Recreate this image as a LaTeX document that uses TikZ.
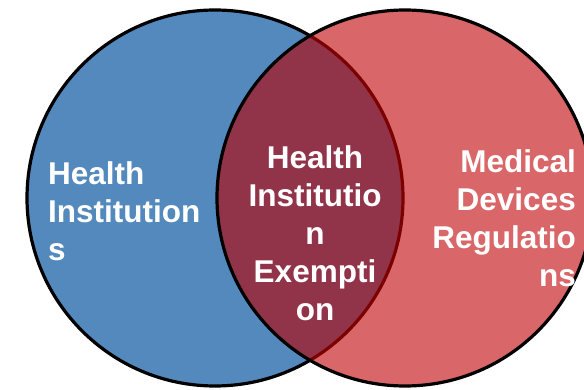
\documentclass[tikz,border=0pt]{standalone}
\usepackage{fontspec}
\setmainfont{Liberation Sans}
\usepackage{tikz}
\usetikzlibrary{positioning}
\usepackage{xcolor}

\definecolor{instblue}{RGB}{83,137,188}
\definecolor{regred}{RGB}{217,102,104}
\definecolor{overlapred}{RGB}{145,51,73}
\definecolor{edgered}{RGB}{125,0,0}

\begin{document}
\begin{tikzpicture}[
            x=1pt, y=-1pt,
            set/.style={circle, inner sep=0pt, minimum size=376pt},
            setline/.style={line width=3.2pt},
            label/.style={text=white, font=\fontsize{31.5}{38}\selectfont\bfseries, inner sep=0pt}
          ]

          \useasboundingbox (0,0) rectangle (584,390);

          % Circles
          \node[set, fill=instblue, draw=black, setline] (inst) at (215,198) {};
          \node[set, fill=regred] (reg) at (405,198) {};

          % Overlap
          \begin{scope}
            \clip (inst.center) circle[radius=188pt];
            \fill[overlapred] (reg.center) circle[radius=188pt];
          \end{scope}
          \begin{scope}
            \clip (reg.center) circle[radius=188pt];
            \draw[setline, edgered] (inst.center) circle[radius=188pt];
          \end{scope}
          \draw[setline] (reg.center) circle[radius=188pt];

          % Labels (base = last line)
          \node[label, align=left, anchor=base west] (instlabel) at (48,261) {Health\\Institution\\s};
          \node[label, align=center, anchor=base] (exemptlabel) at (315,320) {Health\\Institutio\\n\\Exempti\\on};
          \node[label, align=right, anchor=base east] (reglabel) at (576,287) {Medical\\Devices\\Regulatio\\ns};

        \end{tikzpicture}
\end{document}
